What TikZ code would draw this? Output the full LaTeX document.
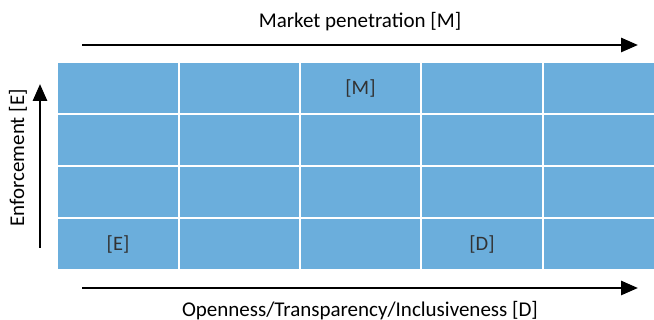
\documentclass[tikz,border=0pt]{standalone}
\usepackage{fontspec}
\setmainfont{Carlito}
\usetikzlibrary{arrows.meta}
\definecolor{cellblue}{RGB}{107,174,220}
\definecolor{labgray}{RGB}{50,50,50}
\tikzset{
  cell/.style={draw=white, line width=2pt, fill=cellblue, minimum width=#1, minimum height=52pt, inner sep=0pt, anchor=north west},
  axis/.style={line width=2.8pt, -{Triangle[length=17pt,width=14pt]}},
  axlabel/.style={font=\fontsize{21}{24}\selectfont, text=black, inner sep=0pt},
  celllabel/.style={font=\fontsize{20.5}{24}\selectfont, text=labgray, inner sep=0pt}
}
\begin{document}
\begin{tikzpicture}[x=1pt,y=1pt]
\useasboundingbox (0,0) rectangle (654,320);
% grid
\foreach \r [count=\ri] in {259,207,155,103}{
  \foreach \x/\w [count=\ci] in {56/122,178/121,299/121,420/122,542/114}{
    \node[cell=\w pt] (c\ri\ci) at (\x,\r) {};
  }
}
\node[celllabel] (lm) at (c13.center) {[M]};
\node[celllabel] (le) at (c41.center) {[E]};
\node[celllabel] (ld) at (c44.center) {[D]};
% axes
\coordinate (ts) at (82,275);
\coordinate (te) at (638,275);
\coordinate (bs) at (82,32);
\coordinate (be) at (638,32);
\coordinate (ls) at (40,72);
\coordinate (le2) at (40,236);
\draw[axis] (ts) -- (te);
\draw[axis] (bs) -- (be);
\draw[axis] (ls) -- (le2);
\node[axlabel] (tl) at (360,298) {Market penetration [M]};
\node[axlabel] (bl) at (360,9) {Openness/Transparency/Inclusiveness [D]};
\node[axlabel, rotate=90] (ll) at (18,162) {Enforcement [E]};
\end{tikzpicture}
\end{document}
